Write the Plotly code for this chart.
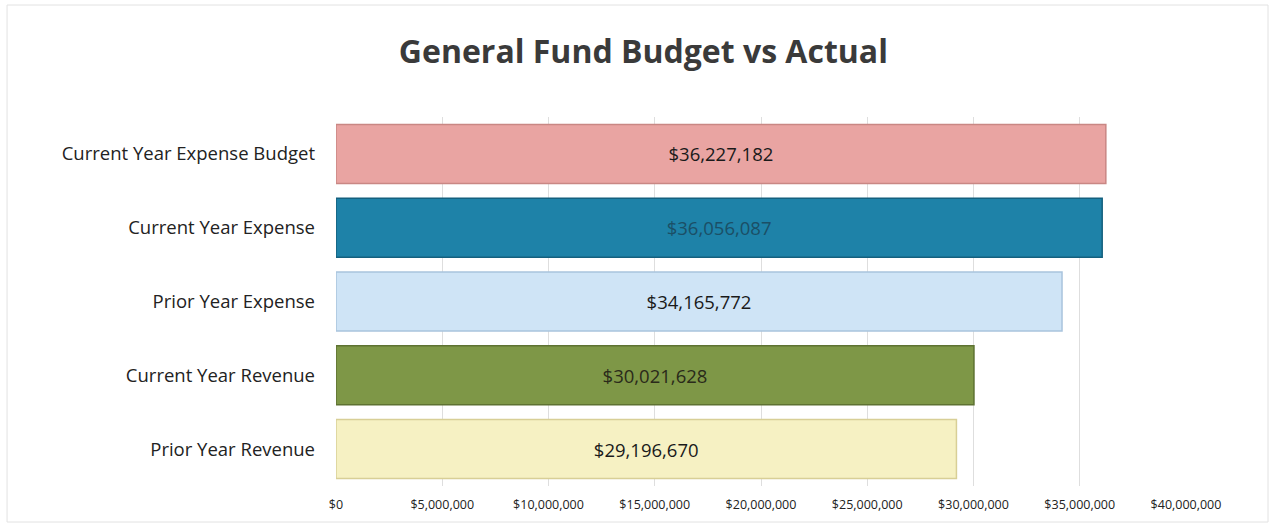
import plotly.graph_objects as go

# Categories listed top to bottom
categories = [
    "Current Year Expense Budget",
    "Current Year Expense",
    "Prior Year Expense",
    "Current Year Revenue",
    "Prior Year Revenue",
]
amounts = [36227182, 36056087, 34165772, 30021628, 29196670]
bar_colors = ["#E9A4A2", "#1E82A8", "#CFE4F6", "#7E9747", "#F6F1C3"]
edge_colors = ["#C98784", "#14607E", "#A9C4DD", "#5E7232", "#D8CF96"]
label_colors = ["#1a1a1a", "#1B4F66", "#1a1a1a", "#2a2a1a", "#1a1a1a"]
tick_values = [0, 5000000, 10000000, 15000000, 20000000, 25000000, 30000000, 35000000, 40000000]
tick_labels = ["$0", "$5,000,000", "$10,000,000", "$15,000,000", "$20,000,000",
               "$25,000,000", "$30,000,000", "$35,000,000", "$40,000,000"]

value_text = ["${:,.0f}".format(v) for v in amounts]

fig = go.Figure(
    go.Bar(
        x=amounts,
        y=categories,
        orientation="h",
        width=0.8,
        marker=dict(color=bar_colors, line=dict(color=edge_colors, width=1.5)),
        text=value_text,
        textposition="inside",
        insidetextanchor="middle",
        textangle=0,
        constraintext="none",
        textfont=dict(family="Open Sans, sans-serif", size=18.5, color=label_colors),
        hoverinfo="skip",
    )
)

fig.update_layout(
    width=1274,
    height=529,
    margin=dict(l=336, r=88, t=117, b=43),
    paper_bgcolor="white",
    plot_bgcolor="white",
    showlegend=False,
    title=dict(
        text="<b>General Fund Budget vs Actual</b>",
        x=0.505,
        xanchor="center",
        y=0.902,
        yanchor="middle",
        font=dict(family="Open Sans, sans-serif", size=32, color="#3a3a3a"),
    ),
    xaxis=dict(
        range=[0, 40000000],
        tickvals=tick_values,
        ticktext=tick_labels,
        showgrid=True,
        gridcolor="#DEDEDE",
        gridwidth=1,
        zeroline=False,
        showline=False,
        tickfont=dict(family="Open Sans, sans-serif", size=12.5, color="#222"),
        ticklabelstandoff=9,
    ),
    yaxis=dict(
        categoryorder="array",
        categoryarray=categories,
        autorange="reversed",
        showgrid=False,
        zeroline=False,
        showline=False,
        tickfont=dict(family="Open Sans, sans-serif", size=18.5, color="#222"),
        ticklabelstandoff=20,
    ),
    shapes=[
        dict(type="rect", xref="paper", yref="paper",
             x0=-0.387, x1=1.0965, y0=-0.0976, y1=1.3035,
             line=dict(color="#E2E2E2", width=1), fillcolor="rgba(0,0,0,0)"),
    ],
)

fig.write_html("out.html")
